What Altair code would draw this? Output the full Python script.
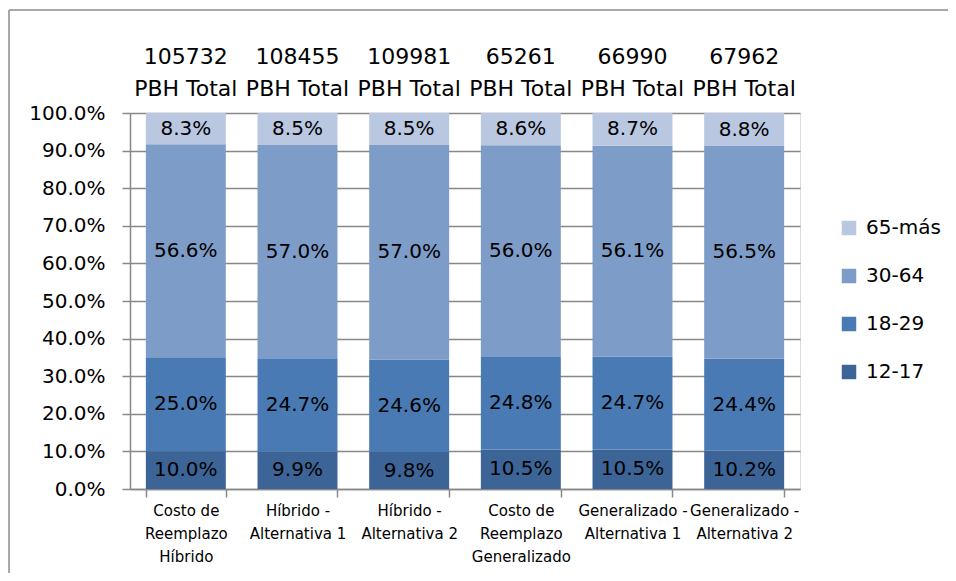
import altair as alt
import pandas as pd

categories = [
    "Costo de|Reemplazo|Híbrido",
    "Híbrido -|Alternativa 1",
    "Híbrido -|Alternativa 2",
    "Costo de|Reemplazo|Generalizado",
    "Generalizado -|Alternativa 1",
    "Generalizado -|Alternativa 2",
]
totals = [105732, 108455, 109981, 65261, 66990, 67962]
groups = ["12-17", "18-29", "30-64", "65-más"]
v_12_17 = [10.0, 9.9, 9.8, 10.5, 10.5, 10.2]
v_18_29 = [25.0, 24.7, 24.6, 24.8, 24.7, 24.4]
v_30_64 = [56.6, 57.0, 57.0, 56.0, 56.1, 56.5]
v_65 = [8.3, 8.5, 8.5, 8.6, 8.7, 8.8]
group_colors = ["#3D6497", "#4A7AB4", "#7E9CC8", "#B9C7E0"]

series = [v_12_17, v_18_29, v_30_64, v_65]
rows = []
for gi, (g, vals) in enumerate(zip(groups, series)):
    for c, v in zip(categories, vals):
        rows.append({"cat": c, "group": g, "value": v, "ord": gi})
df = pd.DataFrame(rows)
hdr = pd.DataFrame({"cat": categories, "total": [str(t) for t in totals]})

FONT = "DejaVu Sans"
W, H = 670, 376
GRAY = "#888888"

xaxis = alt.Axis(
    title=None,
    labelAngle=0,
    labelExpr="split(datum.label, '|')",
    labelFontSize=15,
    labelLineHeight=23,
    labelPadding=6,
    labelColor="#000000",
    labelFont=FONT,
    labelOverlap=False,
    tickBand="extent",
    tickSize=8,
    tickColor=GRAY,
    tickWidth=1.5,
    domainColor=GRAY,
    domainWidth=1.5,
    grid=False,
)
xscale = alt.Scale(paddingInner=0.284, paddingOuter=0.142)
yaxis = alt.Axis(
    title=None,
    format=".1%",
    values=[i / 10 for i in range(11)],
    labelOverlap=False,
    labelFontSize=20,
    labelFont=FONT,
    labelColor="#000000",
    labelPadding=17,
    tickSize=8,
    tickColor=GRAY,
    tickWidth=1.5,
    domainColor=GRAY,
    domainWidth=1.5,
    gridColor=GRAY,
    gridWidth=1.5,
)
yscale = alt.Scale(domain=[0, 1], nice=False)


def X():
    return alt.X("cat:N", sort=categories, scale=xscale, axis=xaxis)


base = alt.Chart(df).transform_stack(
    stack="value",
    groupby=["cat"],
    as_=["y0", "y1"],
    offset="normalize",
    sort=[alt.SortField("ord", order="ascending")],
)

bars = base.mark_bar().encode(
    x=X(),
    y=alt.Y("y0:Q", scale=yscale, axis=yaxis),
    y2="y1:Q",
    color=alt.Color(
        "group:N",
        scale=alt.Scale(domain=groups[::-1], range=group_colors[::-1]),
        legend=alt.Legend(
            title=None,
            orient="none",
            legendX=709,
            legendY=105,
            symbolType="square",
            symbolSize=210,
            symbolStrokeWidth=0,
            labelFontSize=20,
            labelFont=FONT,
            labelColor="#000000",
            rowPadding=28,
            labelOffset=7,
        ),
    ),
    order=alt.Order("ord:Q"),
)

labels = base.transform_calculate(
    mid="(datum.y0 + datum.y1) / 2",
    lab="format(datum.value, '.1f') + '%'",
).mark_text(fontSize=20, font=FONT, color="#000000", baseline="middle").encode(
    x=X(),
    y=alt.Y("mid:Q", scale=yscale, axis=yaxis),
    text="lab:N",
)

hdr_num = alt.Chart(hdr).mark_text(fontSize=22, font=FONT, color="#000000", baseline="alphabetic").encode(
    x=X(),
    y=alt.value(-49),
    text="total:N",
)
hdr_pbh = alt.Chart(hdr).mark_text(fontSize=22, font=FONT, color="#000000", baseline="alphabetic").encode(
    x=X(),
    y=alt.value(-17),
    text=alt.value("PBH Total"),
)

one = pd.DataFrame({"a": [0]})
frame_left = alt.Chart(one).mark_rule(color="#8C8C8C", strokeWidth=1.5).encode(
    x=alt.value(-121), y=alt.value(-103), y2=alt.value(H + 84)
)
frame_top = alt.Chart(one).mark_rule(color="#8C8C8C", strokeWidth=1.5).encode(
    y=alt.value(-103), x=alt.value(-121), x2=alt.value(W + 148)
)

chart = alt.layer(frame_left, frame_top, bars, labels, hdr_num, hdr_pbh).properties(
    width=W,
    height=H,
    autosize=alt.AutoSizeParams(type="none"),
    padding={"left": 122, "top": 105, "right": 148, "bottom": 84},
).configure_view(stroke=None).configure(font=FONT)

chart.save("out.html", embed_options={"renderer": "svg", "actions": False})
